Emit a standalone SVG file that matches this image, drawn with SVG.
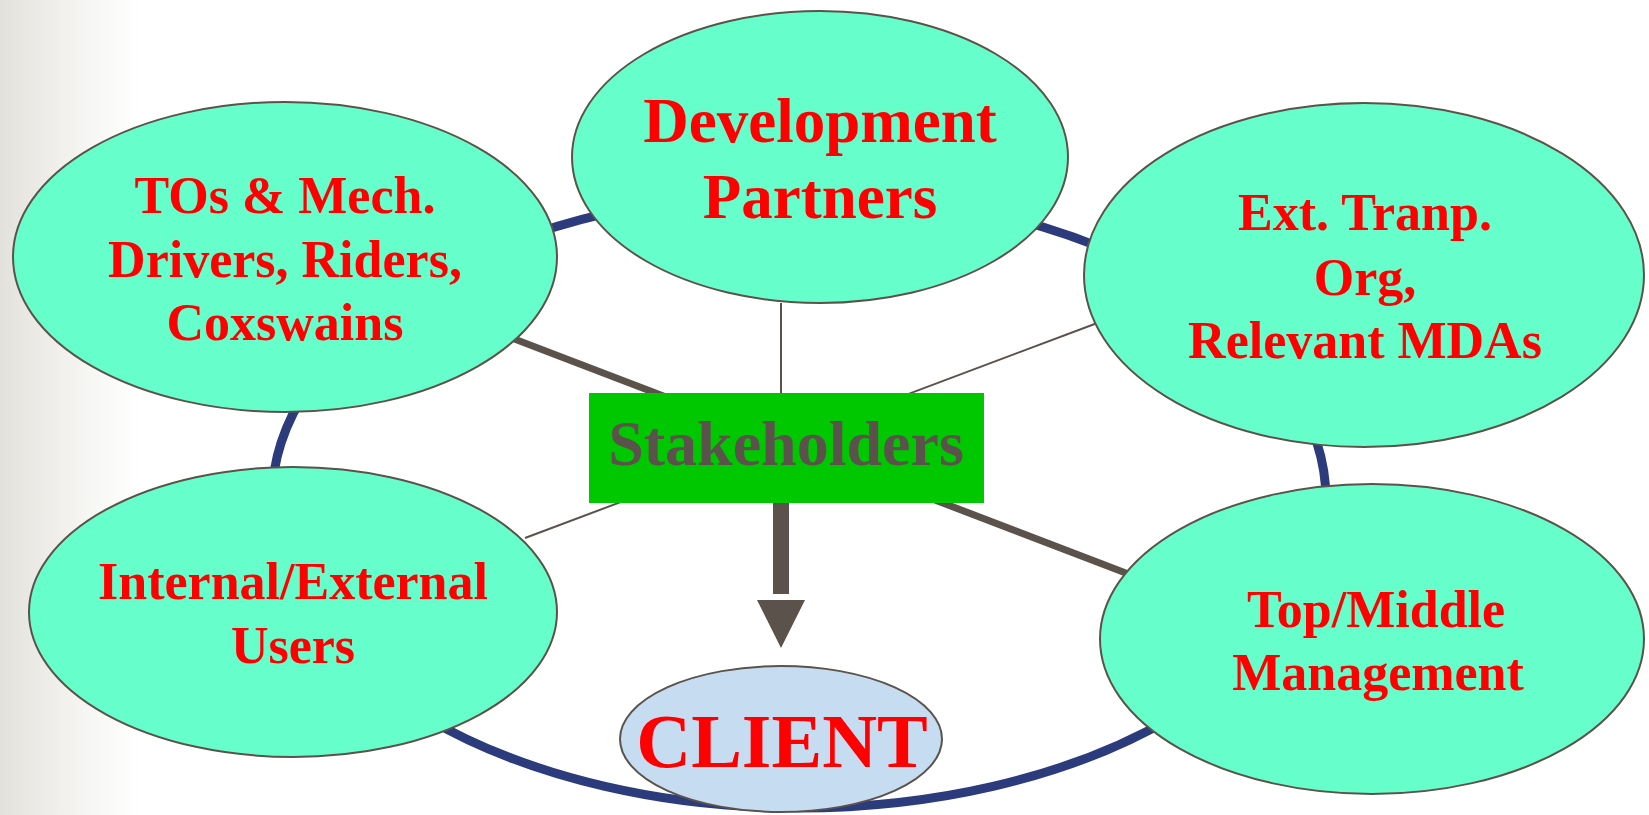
<svg xmlns="http://www.w3.org/2000/svg" width="1649" height="815" viewBox="0 0 1649 815">
  <defs>
    <linearGradient id="bg" x1="0" y1="0" x2="140" y2="0" gradientUnits="userSpaceOnUse">
      <stop offset="0" stop-color="#e2e1dc"/>
      <stop offset="0.35" stop-color="#eeede9"/>
      <stop offset="0.7" stop-color="#f8f8f6"/>
      <stop offset="1" stop-color="#ffffff"/>
    </linearGradient>
    <style>
      .node { fill: #66ffcc; stroke: #5b534b; stroke-width: 2; }
      .client { fill: #c6dcf0; stroke: #5b534b; stroke-width: 2; }
      .lbl { font-family: "Liberation Serif", "Times New Roman", serif; font-weight: bold; fill: #ff0000; text-anchor: middle; }
      .conn { stroke: #5b534b; fill: none; }
    </style>
  </defs>
  <rect x="0" y="0" width="1649" height="815" fill="url(#bg)"/>

  <ellipse id="ring" cx="799" cy="500" rx="527" ry="308" fill="none" stroke="#2c3b7b" stroke-width="9"/>

  <g id="connectors">
    <line class="conn" x1="509" y1="337" x2="1131" y2="575" stroke-width="7"/>
    <line class="conn" x1="1100" y1="322" x2="525" y2="538" stroke-width="2"/>
    <line class="conn" x1="781" y1="303" x2="781" y2="395" stroke-width="2"/>
    <rect x="773" y="500" width="16" height="94" fill="#5b534b"/>
    <polygon points="757,600 805,600 781,648" fill="#5b534b"/>
  </g>

  <g id="node-tos">
    <ellipse class="node" cx="285" cy="257" rx="272" ry="155"/>
    <text class="lbl" font-size="52" x="285" y="213">TOs &amp; Mech.</text>
    <text class="lbl" font-size="52" x="285" y="277">Drivers, Riders,</text>
    <text class="lbl" font-size="52" x="285" y="340">Coxswains</text>
  </g>

  <g id="node-dev">
    <ellipse class="node" cx="820" cy="157" rx="248" ry="146"/>
    <text class="lbl" font-size="63" x="820" y="142">Development</text>
    <text class="lbl" font-size="63" x="820" y="218">Partners</text>
  </g>

  <g id="node-ext">
    <ellipse class="node" cx="1364" cy="275" rx="280" ry="172"/>
    <text class="lbl" font-size="52" x="1365" y="230">Ext. Tranp.</text>
    <text class="lbl" font-size="52" x="1365" y="295">Org,</text>
    <text class="lbl" font-size="52" x="1365" y="358">Relevant MDAs</text>
  </g>

  <g id="node-users">
    <ellipse class="node" cx="293" cy="612" rx="264" ry="145"/>
    <text class="lbl" font-size="52" x="293" y="599">Internal/External</text>
    <text class="lbl" font-size="52" x="293" y="663">Users</text>
  </g>

  <g id="node-mgmt">
    <ellipse class="node" cx="1372" cy="639" rx="272" ry="155"/>
    <text class="lbl" font-size="52" x="1376" y="627">Top/Middle</text>
    <text class="lbl" font-size="52" x="1378" y="690">Management</text>
  </g>

  <g id="node-stakeholders">
    <rect x="589" y="393" width="395" height="110" fill="#00c800"/>
    <text class="lbl" font-size="64" x="786" y="465" style="fill:#5b534b">Stakeholders</text>
  </g>

  <g id="node-client">
    <ellipse class="client" cx="781" cy="739" rx="161" ry="73"/>
    <text class="lbl" font-size="76" x="782" y="767">CLIENT</text>
  </g>
</svg>
